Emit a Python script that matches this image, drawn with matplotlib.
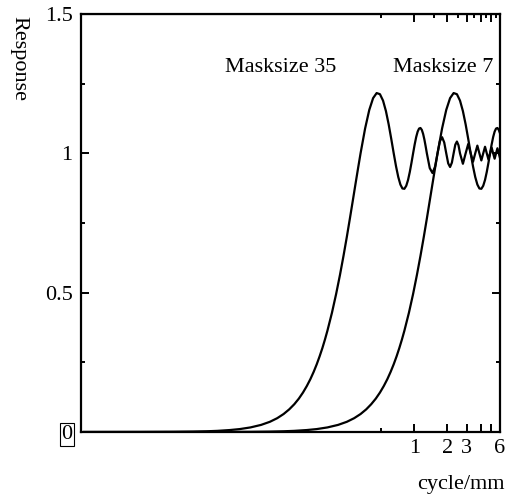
import matplotlib.pyplot as plt

plt.rcParams['font.family'] = ['Liberation Serif', 'DejaVu Serif']

# response, masksize 35 (left curve)
freq_35 = [0.001, 0.00325, 0.0065, 0.00975, 0.013, 0.0163, 0.0211, 0.026, 0.0325, 0.0406,
           0.0488, 0.0569, 0.065, 0.0731, 0.0813, 0.0894, 0.0975, 0.1056, 0.1138, 0.1219,
           0.130, 0.1381, 0.1463, 0.1544, 0.1625, 0.1788, 0.195, 0.2113, 0.2275, 0.2438,
           0.26, 0.2763, 0.2925, 0.3088, 0.325, 0.3575, 0.39, 0.4225, 0.455, 0.4875,
           0.52, 0.5525, 0.585, 0.6175, 0.65, 0.6825, 0.715, 0.7475, 0.78, 0.8125,
           0.845, 0.8775, 0.91, 0.9425, 0.975, 1.0075, 1.04, 1.0725, 1.105, 1.1375,
           1.17, 1.2025, 1.235, 1.2675, 1.30, 1.381, 1.4625, 1.544, 1.625, 1.706,
           1.7875, 1.869, 1.95, 2.031, 2.1125, 2.194, 2.275, 2.356, 2.4375, 2.519,
           2.60, 2.7625, 2.925, 3.0875, 3.25, 3.4125, 3.575, 3.7375, 3.90, 4.0625,
           4.225, 4.3875, 4.55, 4.7125, 4.875, 5.0375, 5.20, 5.3625, 5.525, 5.6875,
           5.85, 6.0]
resp_35 = [0.0, 0.0002, 0.0007, 0.0015, 0.0026, 0.0041, 0.0070, 0.0105, 0.0164, 0.0255,
           0.0366, 0.0496, 0.0645, 0.0812, 0.0997, 0.1198, 0.1416, 0.1649, 0.1897, 0.2158,
           0.2431, 0.2717, 0.3013, 0.3320, 0.3634, 0.4284, 0.4954, 0.5637, 0.6321, 0.6999,
           0.7661, 0.830, 0.8907, 0.9476, 1.0, 1.0894, 1.1559, 1.1981, 1.2163, 1.2122,
           1.1892, 1.1515, 1.1039, 1.0518, 1.0, 0.9532, 0.915, 0.888, 0.8739, 0.8727,
           0.8836, 0.9046, 0.9332, 0.9661, 1.0, 1.0317, 1.0585, 1.078, 1.089, 1.0909,
           1.0841, 1.0696, 1.0492, 1.0252, 1.0, 0.947, 0.9293, 0.9526, 1.0, 1.0429,
           1.0579, 1.0391, 1.0, 0.964, 0.951, 0.9667, 1.0, 1.031, 1.0424, 1.029,
           1.0, 0.9625, 1.0, 1.0335, 1.0, 0.9697, 1.0, 1.0277, 1.0, 0.9745,
           1.0, 1.0236, 1.0, 0.978, 1.0, 1.0205, 1.0, 0.9807, 1.0, 1.0182,
           1.0, 0.983]

# masksize 7 (right curve)
freq_7 = [0.001, 0.01625, 0.0325, 0.04875, 0.065, 0.08125, 0.1056, 0.13, 0.1625, 0.2031,
          0.244, 0.2844, 0.325, 0.3656, 0.406, 0.4469, 0.4875, 0.5281, 0.569, 0.6094,
          0.65, 0.6906, 0.731, 0.7719, 0.8125, 0.894, 0.975, 1.056, 1.1375, 1.219,
          1.30, 1.381, 1.4625, 1.544, 1.625, 1.7875, 1.95, 2.1125, 2.275, 2.4375,
          2.60, 2.7625, 2.925, 3.0875, 3.25, 3.4125, 3.575, 3.7375, 3.90, 4.0625,
          4.225, 4.3875, 4.55, 4.7125, 4.875, 5.0375, 5.20, 5.3625, 5.525, 5.6875,
          5.85, 6.0]
resp_7 = [0.0, 0.0002, 0.0007, 0.0015, 0.0026, 0.0041, 0.0070, 0.0105, 0.0164, 0.0255,
          0.0366, 0.0496, 0.0645, 0.0812, 0.0997, 0.1198, 0.1416, 0.1649, 0.1897, 0.2158,
          0.2431, 0.2717, 0.3013, 0.3320, 0.3634, 0.4284, 0.4954, 0.5637, 0.6321, 0.6999,
          0.7661, 0.830, 0.8907, 0.9476, 1.0, 1.0894, 1.1559, 1.1981, 1.2163, 1.2122,
          1.1892, 1.1515, 1.1039, 1.0518, 1.0, 0.9532, 0.915, 0.888, 0.8739, 0.8727,
          0.8836, 0.9046, 0.9332, 0.9661, 1.0, 1.0317, 1.0585, 1.078, 1.089, 1.0909,
          1.0841, 1.072]

x_ticks = [1, 2, 3, 4, 5, 6]
x_labels = ['1', '2', '3', '', '', '6']
y_ticks = [0, 0.5, 1, 1.5]
y_labels = ['0', '0.5', '1', '1.5']

fig = plt.figure(figsize=(5.11, 4.95), dpi=100)
ax = fig.add_axes([81/511, 63/495, 419/511, 418/495])

ax.plot(freq_35, resp_35, color='black', lw=1.6)
ax.plot(freq_7, resp_7, color='black', lw=1.6)

ax.set_xscale('log')
ax.set_xlim(0.00094, 6)
ax.set_ylim(0, 1.5)

ax.set_xticks(x_ticks)
ax.set_xticklabels(x_labels)
ax.set_xticks([0.5], minor=True)
ax.set_yticks(y_ticks)
ylabs = ax.set_yticklabels(y_labels)
ylabs[0].set_bbox(dict(boxstyle='square,pad=0.08', fc='white', ec='black', lw=0.8))
ax.set_yticks([0.25, 0.75, 1.25], minor=True)

ax.tick_params(which='both', direction='in', labelsize=16, width=1.4, right=True)
ax.tick_params(which='major', length=6)
ax.tick_params(which='minor', length=3)
ax.tick_params(axis='y', pad=6)
ax.tick_params(axis='x', pad=5)
for s in ax.spines.values():
    s.set_linewidth(1.6)

top = ax.secondary_xaxis('top')
top.set_xticks([1, 2, 3, 4, 5])
top.set_xticks([0.5, 1.5, 2.5, 3.5, 4.5, 5.5], minor=True)
top.tick_params(which='both', direction='in', labeltop=False, width=1.4)
top.tick_params(which='major', length=6)
top.tick_params(which='minor', length=3)
top.xaxis.set_minor_formatter(plt.NullFormatter())
top.xaxis.set_major_formatter(plt.NullFormatter())

fig.text(19/511, 1 - 59/495, 'Response', rotation=-90, ha='center', va='center', fontsize=16)
fig.text(461/511, 1 - 485/495, 'cycle/mm', ha='center', va='center', fontsize=16)
fig.text(225/511, 1 - 72/495, 'Masksize 35', ha='left', va='baseline', fontsize=16)
fig.text(393/511, 1 - 72/495, 'Masksize 7', ha='left', va='baseline', fontsize=16)

fig.savefig('out.png', dpi=100)
